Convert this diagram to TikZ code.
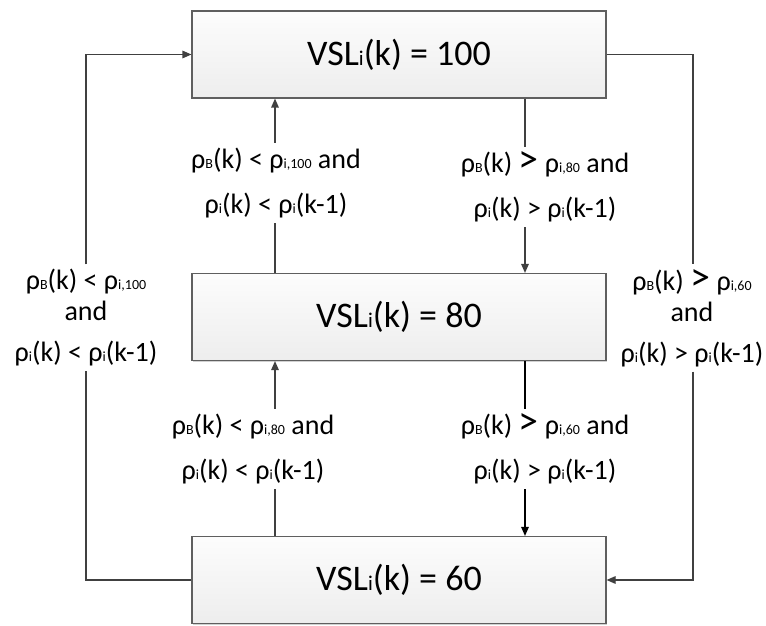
\documentclass[tikz,border=0pt]{standalone}
\usepackage{fontspec}
\setmainfont{Carlito}
\usepackage{tikz}
\usetikzlibrary{positioning, arrows.meta, calc, shadows}
\definecolor{linegray}{HTML}{404040}
\definecolor{boxgray}{HTML}{5F5F5F}
\newcommand{\vsl}[1]{VSL{\fontsize{10.5}{10.5}\selectfont i}(k) = #1}
\newcommand{\rsub}[1]{ρ{\fontsize{7}{7}\selectfont #1}}
\newcommand{\bgt}{{\fontsize{20}{20}\selectfont >}}

\begin{document}
\begin{tikzpicture}[x=0.5pt, y=0.5pt,
	state/.style={draw=boxgray, line width=0.6pt, minimum width=207pt,
		minimum height=43.5pt, top color=white!99!black, bottom color=white!93!black,
		drop shadow={shadow xshift=0.6pt, shadow yshift=-0.6pt, fill=black!18, opacity=1},
		font=\fontsize{18}{22}\selectfont},
	cond/.style={align=center, inner sep=0pt, outer sep=2.5pt,
		font=\fontsize{14}{15.5}\selectfont, execute at begin node={\rule{0pt}{14.5pt}}},
	link/.style={draw=linegray, line width=0.6pt},
	linkarr/.style={link, -{Triangle[length=4.5pt, width=3.8pt]}}]
		
		\useasboundingbox (0,0) rectangle (766,626);
		
		% States
		\node[state] (mid) at (399,309) {\vsl{80}};
		\node[state] (top) at ($(mid) + (0,262.5)$) {\vsl{100}};
		\node[state] (bot) at ($(mid) + (0,-263)$) {\vsl{60}};
		
		% Conditions
		\node[cond] (tllab) at ($(mid) + (-123,134)$) {\rsub{B}(k) < \rsub{i,100} and\\[7pt] \rsub{i}(k) < \rsub{i}(k-1)};
		\node[cond] (trlab) at ($(mid) + (146,130)$) {\rsub{B}(k) \bgt{} \rsub{i,80} and\\[7pt] \rsub{i}(k) > \rsub{i}(k-1)};
		\node[cond] (bllab) at ($(mid) + (-146,-132)$) {\rsub{B}(k) < \rsub{i,80} and\\[7pt] \rsub{i}(k) < \rsub{i}(k-1)};
		\node[cond] (brlab) at ($(mid) + (146,-132)$) {\rsub{B}(k) \bgt{} \rsub{i,60} and\\[7pt] \rsub{i}(k) > \rsub{i}(k-1)};
		\node[cond] (lflab) at ($(mid) + (-313,-1)$) {\rsub{B}(k) < \rsub{i,100}\\ and\\[5pt] \rsub{i}(k) < \rsub{i}(k-1)};
		\node[cond] (rtlab) at ($(mid) + (293,-1)$) {\rsub{B}(k) \bgt{} \rsub{i,60}\\ and\\[5pt] \rsub{i}(k) > \rsub{i}(k-1)};
		
		\coordinate (lx) at ($(mid) + (-124,0)$);
		\coordinate (rx) at ($(mid) + (126,0)$);
		\coordinate (lo) at ($(mid) + (-313,0)$);
		\coordinate (ro) at ($(mid) + (294,0)$);
		
		% Connections
		\draw[link] (mid.north -| lx) -- (tllab.south -| lx);
		\draw[linkarr] (tllab.north -| lx) -- (top.south -| lx);
		
		\draw[link] (top.south -| rx) -- (trlab.north -| rx);
		\draw[linkarr] (trlab.south -| rx) -- (mid.north -| rx);
		
		\draw[link] (bot.north -| lx) -- (bllab.south -| lx);
		\draw[linkarr] (bllab.north -| lx) -- (mid.south -| lx);
		
		\draw[link, draw=black] (mid.south -| rx) -- (brlab.north -| rx);
		\draw[linkarr, draw=black] (brlab.south -| rx) -- (bot.north -| rx);
		
		\draw[link] (bot.west) -| (lflab.south -| lo);
		\draw[linkarr] (lflab.north -| lo) |- (top.west);
		
		\draw[link] (top.east) -| (rtlab.north -| ro);
		\draw[linkarr] (rtlab.south -| ro) |- (bot.east);
	\end{tikzpicture}
\end{document}
